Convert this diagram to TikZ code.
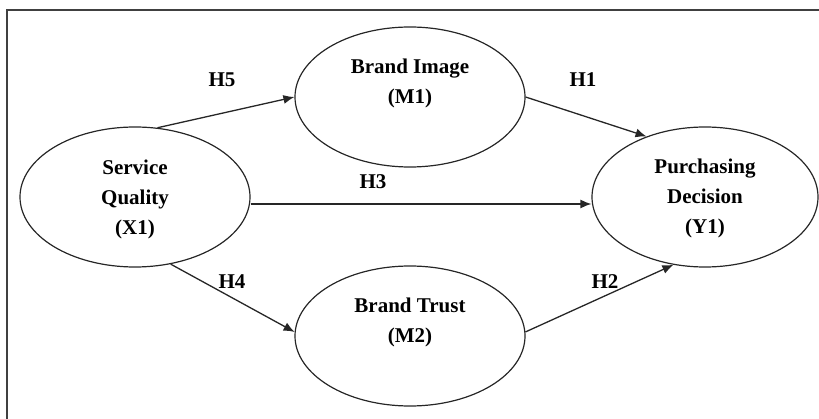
\documentclass[tikz,border=0pt]{standalone}
\usepackage{fontspec}
\setmainfont{Liberation Serif}
\usetikzlibrary{shapes.geometric,arrows.meta}
\begin{document}
\begin{tikzpicture}[x=1pt,y=-1pt,
  ell/.style={draw=black!85,line width=1.2pt,ellipse,inner sep=0pt,minimum width=230pt,minimum height=140pt},
  txt/.style={align=center,font=\bfseries\fontsize{21}{30}\selectfont,inner sep=0pt},
  lbl/.style={font=\bfseries\fontsize{21}{25}\selectfont,inner sep=0pt},
  arr/.style={draw=black!85,line width=1.3pt,-{Latex[length=11pt,width=9pt]}},
  frame/.style={draw=black!75,line width=1.6pt}]
\useasboundingbox (0,0) rectangle (819,419);
\coordinate (fb) at (7,419);
\coordinate (fc) at (7,10);
\coordinate (fr) at (819,10);
\draw[frame] (fb) -- (fc) -- (fr);
% ellipses
\node[ell] (sq) at (135,197) {};
\node[ell,minimum width=226pt] (pd) at (705,197) {};
\node[ell] (bi) at (410,97) {};
\node[ell] (bt) at (410,336) {};
% texts
\node[txt] (sqt) at (135,199) {Service\\Quality\\(X1)};
\node[txt] (pdt) at (705,198) {Purchasing\\Decision\\(Y1)};
\node[txt] (bit) at (410,83) {Brand Image\\(M1)};
\node[txt] (btt) at (410,322) {Brand Trust\\(M2)};
% arrows
\draw[arr] (sq.72) -- (bi.west);
\draw[arr] (bi.east) -- (pd.134);
\draw[arr] ([yshift=-7pt]sq.east) -- ([yshift=-7pt]pd.west);
\draw[arr] (sq.-62) -- (bt.178);
\draw[arr] (bt.2) -- (pd.-115);
% labels
\node[lbl] (h5) at (222,80) {H5};
\node[lbl] (h1) at (583,80) {H1};
\node[lbl] (h3) at (373,182) {H3};
\node[lbl] (h4) at (232,282) {H4};
\node[lbl] (h2) at (605,282) {H2};
\end{tikzpicture}
\end{document}
